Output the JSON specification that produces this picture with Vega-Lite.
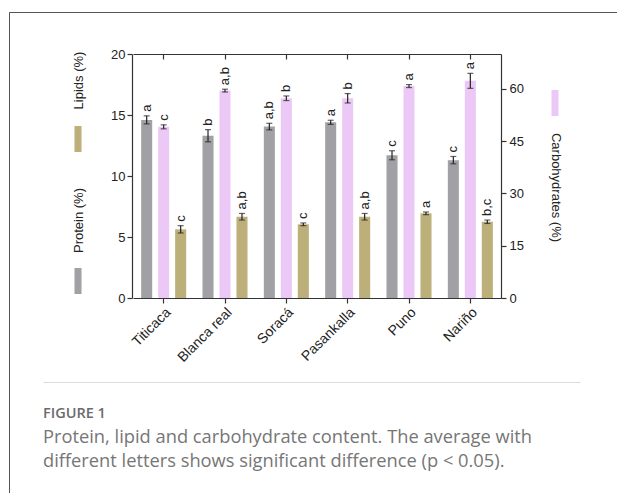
{
  "$schema": "https://vega.github.io/schema/vega-lite/v6.json",
  "width": 608,
  "height": 481,
  "padding": {"left": 9, "top": 12, "right": 0, "bottom": 0},
  "autosize": {"type": "none"},
  "datasets": {
    "composition": [
      {"variety": "Titicaca", "nutrient": "Protein", "mean": 14.6, "low": 14.27, "high": 14.93, "letter": "a"},
      {"variety": "Titicaca", "nutrient": "Carbohydrates", "mean": 49.1, "low": 48.53, "high": 49.67, "letter": "c"},
      {"variety": "Titicaca", "nutrient": "Lipids", "mean": 5.63, "low": 5.33, "high": 5.93, "letter": "c"},
      {"variety": "Blanca real", "nutrient": "Protein", "mean": 13.3, "low": 12.8, "high": 13.8, "letter": "b"},
      {"variety": "Blanca real", "nutrient": "Carbohydrates", "mean": 59.5, "low": 59.1, "high": 59.9, "letter": "a,b"},
      {"variety": "Blanca real", "nutrient": "Lipids", "mean": 6.66, "low": 6.39, "high": 6.93, "letter": "a,b"},
      {"variety": "Soracá", "nutrient": "Protein", "mean": 14.05, "low": 13.78, "high": 14.32, "letter": "a,b"},
      {"variety": "Soracá", "nutrient": "Carbohydrates", "mean": 57.3, "low": 56.64, "high": 57.96, "letter": "b"},
      {"variety": "Soracá", "nutrient": "Lipids", "mean": 6.04, "low": 5.93, "high": 6.15, "letter": "c"},
      {"variety": "Pasankalla", "nutrient": "Protein", "mean": 14.4, "low": 14.23, "high": 14.57, "letter": "a"},
      {"variety": "Pasankalla", "nutrient": "Carbohydrates", "mean": 57.3, "low": 55.95, "high": 58.65, "letter": "b"},
      {"variety": "Pasankalla", "nutrient": "Lipids", "mean": 6.66, "low": 6.39, "high": 6.93, "letter": "a,b"},
      {"variety": "Puno", "nutrient": "Protein", "mean": 11.7, "low": 11.33, "high": 12.07, "letter": "c"},
      {"variety": "Puno", "nutrient": "Carbohydrates", "mean": 60.8, "low": 60.37, "high": 61.23, "letter": "a"},
      {"variety": "Puno", "nutrient": "Lipids", "mean": 6.94, "low": 6.83, "high": 7.05, "letter": "a"},
      {"variety": "Nariño", "nutrient": "Protein", "mean": 11.3, "low": 11.0, "high": 11.6, "letter": "c"},
      {"variety": "Nariño", "nutrient": "Carbohydrates", "mean": 62.3, "low": 60.15, "high": 64.45, "letter": "a"},
      {"variety": "Nariño", "nutrient": "Lipids", "mean": 6.25, "low": 6.11, "high": 6.39, "letter": "b,c"}
    ],
    "caption": [
      {"line": 1, "text": "FIGURE 1"},
      {"line": 2, "text": "Protein, lipid and carbohydrate content. The average with"},
      {"line": 3, "text": "different letters shows significant difference (p < 0.05)."}
    ]
  },
  "config": {
    "font": "Liberation Sans",
    "view": {"stroke": "#555555", "strokeWidth": 1, "strokeDash": [608, 1089, 481]},
    "axis": {
      "grid": false,
      "domainColor": "#333333",
      "tickColor": "#333333",
      "domainWidth": 1.2,
      "tickWidth": 1.2,
      "labelColor": "#222222",
      "titleColor": "#222222",
      "labelFontSize": 13,
      "titleFontSize": 13,
      "titleFontWeight": "normal"
    },
    "legend": {
      "orient": "none",
      "direction": "vertical",
      "title": null,
      "labelExpr": "''",
      "labelOpacity": 0,
      "labelFontSize": 1,
      "symbolType": "M-0.27,-1H0.27V1H-0.27Z",
      "symbolSize": 676,
      "symbolStrokeWidth": 0,
      "symbolOpacity": 1,
      "padding": 0
    }
  },
  "layer": [
    {
      "data": {"name": "composition"},
      "layer": [
        {
          "transform": [{"filter": "datum.nutrient !== 'Carbohydrates'"}],
          "encoding": {
            "x": {
              "field": "variety", "type": "nominal",
              "scale": {"domain": ["Titicaca", "Blanca real", "Soracá", "Pasankalla", "Puno", "Nariño"], "range": [124, 492], "paddingInner": 0, "paddingOuter": 0},
              "axis": {"orient": "bottom", "offset": -195, "title": null, "tickSize": 5, "labelAngle": -45, "labelPadding": 2, "labelFontSize": 14}
            },
            "xOffset": {
              "field": "nutrient", "type": "nominal",
              "scale": {"domain": ["Protein", "Carbohydrates", "Lipids"], "paddingInner": 0.35, "paddingOuter": 0.48}
            }
          },
          "layer": [
            {
              "mark": {"type": "bar"},
              "encoding": {
                "y": {
                  "field": "mean", "type": "quantitative",
                  "scale": {"domain": [0, 20], "range": [286, 42], "nice": false},
                  "axis": {"orient": "left", "offset": -123, "values": [0, 5, 10, 15, 20], "tickSize": 5, "labelPadding": 2,
                           "title": "Protein (%)", "titleAngle": -90, "titleX": -54, "titleY": 208, "titleAlign": "center", "titleBaseline": "middle"}
                },
                "fill": {
                  "field": "nutrient", "type": "nominal",
                  "scale": {"domain": ["Lipids", "Protein"], "range": ["#bcaf79", "#a1a1a5"]},
                  "legend": {"legendX": 56, "legendY": 114, "rowPadding": 116}
                }
              }
            },
            {
              "mark": {"type": "rule", "color": "#222222", "strokeWidth": 1.2},
              "encoding": {
                "y": {
                  "field": "low", "type": "quantitative",
                  "scale": {"domain": [0, 20], "range": [286, 42], "nice": false},
                  "axis": {"orient": "left", "offset": -123, "labels": false, "ticks": false, "domain": false,
                           "title": "Lipids (%)", "titleAngle": -90, "titleX": -54, "titleY": 68, "titleAlign": "center", "titleBaseline": "middle"}
                },
                "y2": {"field": "high"}
              }
            },
            {
              "mark": {"type": "tick", "orient": "horizontal", "size": 6, "thickness": 1.2, "color": "#222222"},
              "encoding": {"y": {"field": "low", "type": "quantitative", "scale": {"domain": [0, 20], "range": [286, 42], "nice": false}, "axis": null}}
            },
            {
              "mark": {"type": "tick", "orient": "horizontal", "size": 6, "thickness": 1.2, "color": "#222222"},
              "encoding": {"y": {"field": "high", "type": "quantitative", "scale": {"domain": [0, 20], "range": [286, 42], "nice": false}, "axis": null}}
            },
            {
              "mark": {"type": "text", "angle": 270, "align": "left", "baseline": "middle", "dx": 4, "fontSize": 13, "color": "#222222"},
              "encoding": {
                "y": {"field": "high", "type": "quantitative", "scale": {"domain": [0, 20], "range": [286, 42], "nice": false}, "axis": null},
                "text": {"field": "letter"}
              }
            }
          ],
          "resolve": {"axis": {"y": "independent"}}
        },
        {
          "transform": [{"filter": "datum.nutrient === 'Carbohydrates'"}],
          "encoding": {
            "x": {
              "field": "variety", "type": "nominal",
              "scale": {"domain": ["Titicaca", "Blanca real", "Soracá", "Pasankalla", "Puno", "Nariño"], "range": [124, 492], "paddingInner": 0, "paddingOuter": 0},
              "axis": {"orient": "top", "offset": -42, "title": null, "labels": false, "tickSize": -5}
            },
            "xOffset": {
              "field": "nutrient", "type": "nominal",
              "scale": {"domain": ["Protein", "Carbohydrates", "Lipids"], "paddingInner": 0.35, "paddingOuter": 0.48}
            }
          },
          "layer": [
            {
              "mark": {"type": "bar"},
              "encoding": {
                "y": {
                  "field": "mean", "type": "quantitative",
                  "scale": {"domain": [0, 70], "range": [286, 42], "nice": false},
                  "axis": {"orient": "right", "offset": -116, "values": [0, 15, 30, 45, 60], "tickSize": 5, "labelPadding": 3,
                           "title": "Carbohydrates (%)", "titleAngle": 90, "titleX": 54, "titleY": 175, "titleAlign": "center", "titleBaseline": "middle"}
                },
                "fill": {
                  "field": "nutrient", "type": "nominal",
                  "scale": {"domain": ["Carbohydrates"], "range": ["#ecc8f7"]},
                  "legend": {"legendX": 533, "legendY": 78}
                }
              }
            },
            {
              "mark": {"type": "rule", "color": "#222222", "strokeWidth": 1.2},
              "encoding": {
                "y": {"field": "low", "type": "quantitative", "scale": {"domain": [0, 70], "range": [286, 42], "nice": false}, "axis": null},
                "y2": {"field": "high"}
              }
            },
            {
              "mark": {"type": "tick", "orient": "horizontal", "size": 6, "thickness": 1.2, "color": "#222222"},
              "encoding": {"y": {"field": "low", "type": "quantitative", "scale": {"domain": [0, 70], "range": [286, 42], "nice": false}, "axis": null}}
            },
            {
              "mark": {"type": "tick", "orient": "horizontal", "size": 6, "thickness": 1.2, "color": "#222222"},
              "encoding": {"y": {"field": "high", "type": "quantitative", "scale": {"domain": [0, 70], "range": [286, 42], "nice": false}, "axis": null}}
            },
            {
              "mark": {"type": "text", "angle": 270, "align": "left", "baseline": "middle", "dx": 4, "fontSize": 13, "color": "#222222"},
              "encoding": {
                "y": {"field": "high", "type": "quantitative", "scale": {"domain": [0, 70], "range": [286, 42], "nice": false}, "axis": null},
                "text": {"field": "letter"}
              }
            }
          ],
          "resolve": {"axis": {"y": "independent"}}
        }
      ],
      "resolve": {"scale": {"y": "independent", "fill": "independent"}, "axis": {"x": "independent"}}
    },
    {
      "data": {"name": "caption"},
      "encoding": {
        "x": {
          "datum": 0, "type": "quantitative",
          "scale": {"domain": [0, 1], "range": [34, 571]},
          "axis": {"orient": "top", "offset": -370, "labels": false, "ticks": false, "title": null, "domainColor": "#dcdcdc", "domainWidth": 1}
        },
        "y": {"field": "line", "type": "quantitative", "scale": {"domain": [1, 3], "range": [402, 450]}, "axis": null},
        "text": {"field": "text"}
      },
      "layer": [
        {
          "transform": [{"filter": "datum.line === 1"}],
          "mark": {"type": "text", "align": "left", "baseline": "middle", "font": "Open Sans", "fontSize": 14.5, "fontWeight": 600, "color": "#6b6b6b"}
        },
        {
          "transform": [{"filter": "datum.line > 1"}],
          "mark": {"type": "text", "align": "left", "baseline": "middle", "font": "Open Sans", "fontSize": 18.3, "color": "#767676"}
        }
      ]
    }
  ],
  "resolve": {"scale": {"x": "independent", "y": "independent"}}
}
